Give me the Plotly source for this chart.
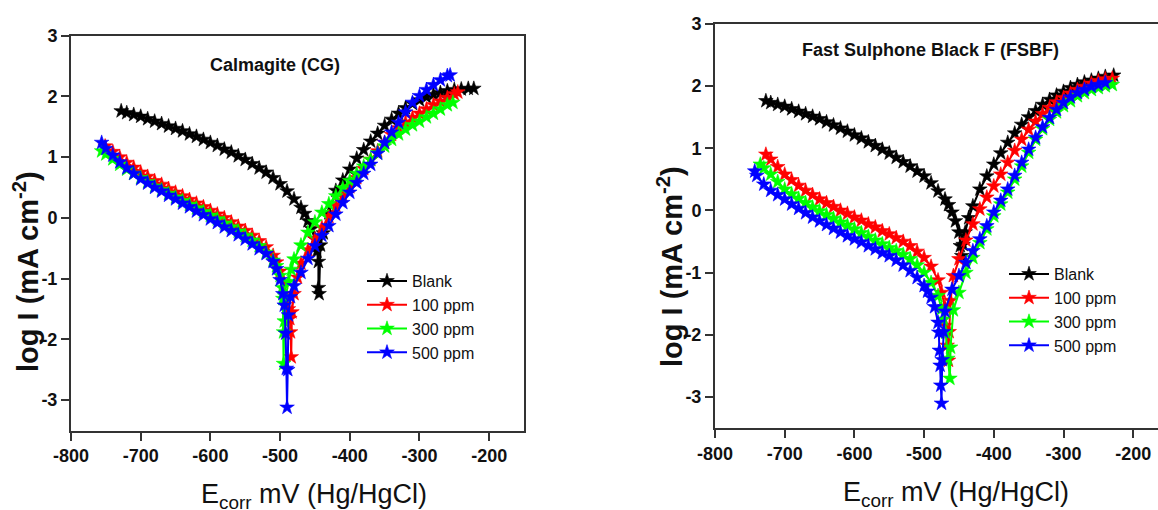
import plotly.graph_objects as go

# ---------------- Calmagite (CG) ----------------
cg_blank_E = [-728,-720,-710,-700,-690,-680,-670,-660,-650,-640,-630,-620,-610,-600,-590,-580,-570,-560,-550,-540,-530,-520,-510,-500,-490,-480,-470,-465,-460,-455,-450,
              -447,-445,-445,-444,
              -442,-438,-430,-420,-410,-400,-390,-380,-370,-360,-350,-340,-330,-320,-310,-300,-290,-280,-270,-260,-250,-240,-230,-222]
cg_blank_I = [1.76,1.73,1.70,1.67,1.63,1.59,1.55,1.51,1.47,1.43,1.38,1.34,1.29,1.24,1.19,1.13,1.08,1.02,0.96,0.89,0.82,0.75,0.66,0.56,0.44,0.31,0.17,0.07,-0.05,-0.18,-0.35,
              -0.55,-0.72,-1.15,-1.25,
              -0.45,-0.25,0.08,0.45,0.62,0.80,0.98,1.12,1.26,1.39,1.52,1.62,1.72,1.81,1.88,1.94,1.99,2.03,2.06,2.09,2.11,2.12,2.13,2.13]

cg_100_E = [-751,-740,-730,-720,-710,-700,-690,-680,-670,-660,-650,-640,-630,-620,-610,-600,-590,-580,-570,-560,-550,-540,-530,-520,-510,-505,-500,-495,-490,
            -488,-486,-485,-484,
            -483,-480,-475,-470,-460,-450,-440,-430,-420,-410,-400,-390,-380,-370,-360,-350,-340,-330,-320,-310,-300,-290,-280,-270,-260,-250,-245]
cg_100_I = [1.18,1.09,1.00,0.91,0.83,0.75,0.68,0.61,0.55,0.48,0.42,0.36,0.30,0.24,0.18,0.12,0.06,0.00,-0.07,-0.14,-0.21,-0.29,-0.38,-0.48,-0.62,-0.73,-0.88,-1.06,-1.30,
            -1.50,-1.66,-1.88,-2.29,
            -1.55,-1.25,-0.98,-0.75,-0.53,-0.35,-0.16,0.02,0.20,0.36,0.51,0.66,0.81,0.96,1.10,1.24,1.37,1.48,1.57,1.65,1.72,1.79,1.86,1.92,1.98,2.04,2.07]

cg_300_E = [-756,-750,-740,-730,-720,-710,-700,-690,-680,-670,-660,-650,-640,-630,-620,-610,-600,-590,-580,-570,-560,-550,-540,-530,-520,-510,-505,-500,-497,
            -496,-495,-495,
            -494,-492,-488,-484,-480,-470,-460,-450,-440,-430,-420,-410,-400,-390,-380,-370,-360,-350,-340,-330,-320,-310,-300,-290,-280,-270,-260,-252]
cg_300_I = [1.10,1.05,0.97,0.88,0.80,0.73,0.66,0.59,0.52,0.46,0.40,0.34,0.28,0.22,0.16,0.10,0.04,-0.02,-0.09,-0.15,-0.22,-0.29,-0.37,-0.46,-0.57,-0.70,-0.79,-0.95,-1.15,
            -1.33,-1.88,-2.40,
            -1.70,-1.30,-1.05,-0.85,-0.68,-0.45,-0.24,-0.07,0.09,0.23,0.36,0.49,0.61,0.73,0.85,0.96,1.07,1.18,1.29,1.38,1.46,1.53,1.59,1.66,1.72,1.79,1.86,1.90]

cg_500_E = [-756,-750,-740,-730,-720,-710,-700,-690,-680,-670,-660,-650,-640,-630,-620,-610,-600,-590,-580,-570,-560,-550,-540,-530,-520,-510,-505,-500,-496,
            -494,-492,-491,-490,
            -489,-488,-485,-480,-470,-460,-450,-440,-430,-420,-410,-400,-390,-380,-370,-360,-350,-340,-330,-320,-310,-300,-290,-280,-270,-260,-256]
cg_500_I = [1.24,1.14,1.03,0.92,0.82,0.73,0.64,0.57,0.50,0.44,0.37,0.31,0.24,0.18,0.11,0.05,-0.02,-0.08,-0.15,-0.21,-0.28,-0.35,-0.43,-0.51,-0.59,-0.72,-0.84,-1.02,-1.25,
            -1.44,-1.90,-2.48,-3.12,
            -2.50,-1.60,-1.30,-1.12,-0.90,-0.67,-0.46,-0.29,-0.13,0.06,0.25,0.42,0.58,0.73,0.88,1.06,1.24,1.41,1.57,1.74,1.90,2.01,2.11,2.19,2.27,2.34,2.35]

# ---------------- Fast Sulphone Black F (FSBF) ----------------
fs_blank_E = [-727,-720,-710,-700,-690,-680,-670,-660,-650,-640,-630,-620,-610,-600,-590,-580,-570,-560,-550,-540,-530,-520,-510,-500,-490,-480,-470,-465,-460,-455,-450,
              -448,-446,
              -444,-441,-436,-430,-420,-410,-400,-390,-380,-370,-360,-350,-340,-330,-320,-310,-300,-290,-280,-270,-260,-250,-240,-228]
fs_blank_I = [1.76,1.73,1.70,1.67,1.63,1.59,1.55,1.51,1.47,1.42,1.37,1.32,1.27,1.21,1.16,1.10,1.04,0.98,0.92,0.85,0.78,0.71,0.63,0.55,0.44,0.31,0.18,0.09,-0.03,-0.17,-0.35,
              -0.57,-0.73,
              -0.55,-0.35,-0.12,0.07,0.34,0.55,0.74,0.92,1.09,1.24,1.38,1.50,1.60,1.70,1.78,1.85,1.91,1.97,2.02,2.06,2.09,2.12,2.15,2.17]

fs_100_E = [-727,-720,-710,-700,-690,-680,-670,-660,-650,-640,-630,-620,-610,-600,-590,-580,-570,-560,-550,-540,-530,-520,-510,-500,-490,-480,-475,-470,
            -469,-467,-465,
            -464,-462,-458,-450,-440,-430,-420,-410,-400,-390,-380,-370,-360,-350,-340,-330,-320,-310,-300,-290,-280,-270,-260,-250,-240,-230]
fs_100_I = [0.90,0.82,0.70,0.58,0.49,0.40,0.32,0.25,0.18,0.12,0.06,0.00,-0.05,-0.11,-0.16,-0.22,-0.27,-0.33,-0.38,-0.44,-0.50,-0.57,-0.66,-0.76,-0.90,-1.12,-1.32,-1.55,
            -1.85,-2.17,-2.41,
            -1.95,-1.45,-1.05,-0.78,-0.48,-0.22,0.02,0.21,0.39,0.58,0.77,0.96,1.14,1.30,1.43,1.55,1.65,1.74,1.81,1.88,1.94,1.99,2.04,2.08,2.11,2.12]

fs_300_E = [-735,-730,-720,-710,-700,-690,-680,-670,-660,-650,-640,-630,-620,-610,-600,-590,-580,-570,-560,-550,-540,-530,-520,-510,-500,-490,-480,-475,-472,
            -469,-466,-463,
            -462,-458,-450,-440,-430,-420,-410,-400,-390,-380,-370,-360,-350,-340,-330,-320,-310,-300,-290,-280,-270,-260,-250,-240,-230]
fs_300_I = [0.74,0.68,0.58,0.46,0.34,0.26,0.19,0.12,0.05,-0.01,-0.07,-0.13,-0.19,-0.24,-0.30,-0.36,-0.42,-0.48,-0.54,-0.60,-0.65,-0.71,-0.78,-0.88,-1.00,-1.16,-1.37,-1.58,-1.75,
            -1.96,-2.38,-2.70,
            -2.20,-1.60,-1.32,-1.00,-0.76,-0.52,-0.30,-0.09,0.10,0.29,0.50,0.71,0.93,1.14,1.31,1.46,1.58,1.68,1.76,1.84,1.89,1.94,1.97,2.00,2.02]

fs_500_E = [-743,-740,-730,-720,-710,-700,-690,-680,-670,-660,-650,-640,-630,-620,-610,-600,-590,-580,-570,-560,-550,-540,-530,-520,-510,-500,-495,-490,-485,-480,
            -479,-478,-477,-476,-475,
            -474,-472,-470,-460,-450,-440,-430,-420,-410,-400,-390,-380,-370,-360,-350,-340,-330,-320,-310,-300,-290,-280,-270,-260,-250,-240]
fs_500_I = [0.63,0.56,0.42,0.32,0.25,0.18,0.10,0.03,-0.04,-0.11,-0.17,-0.23,-0.29,-0.35,-0.41,-0.46,-0.51,-0.57,-0.62,-0.68,-0.73,-0.80,-0.88,-0.97,-1.08,-1.21,-1.30,-1.40,-1.55,-1.80,
            -1.96,-2.25,-2.49,-2.81,-3.10,
            -2.40,-1.95,-1.62,-1.27,-1.05,-0.84,-0.65,-0.46,-0.25,-0.03,0.16,0.34,0.56,0.77,0.98,1.17,1.34,1.49,1.62,1.73,1.82,1.89,1.94,1.99,2.02,2.05]

series_names = ["Blank", "100 ppm", "300 ppm", "500 ppm"]
series_colors = ["#000000", "#ff0000", "#00ff00", "#0000ff"]
panel_titles = ["Calmagite (CG)", "Fast Sulphone Black F (FSBF)"]
x_ticks = [-800, -700, -600, -500, -400, -300, -200]
x_ticklabels = ["-800", "-700", "-600", "-500", "-400", "-300", "-200"]
y_ticks = [-3, -2, -1, 0, 1, 2, 3]
y_ticklabels = ["-3", "-2", "-1", "0", "1", "2", "3"]

panels = [
    [(cg_blank_E, cg_blank_I), (cg_100_E, cg_100_I), (cg_300_E, cg_300_I), (cg_500_E, cg_500_I)],
    [(fs_blank_E, fs_blank_I), (fs_100_E, fs_100_I), (fs_300_E, fs_300_I), (fs_500_E, fs_500_I)],
]

W, H = 1158, 510
fig = go.Figure()

for p, data in enumerate(panels):
    xa = "x" if p == 0 else "x2"
    ya = "y" if p == 0 else "y2"
    leg = "legend" if p == 0 else "legend2"
    for (E, I), name, col in zip(data, series_names, series_colors):
        fig.add_trace(go.Scatter(
            x=E, y=I, mode="lines+markers", name=name,
            xaxis=xa, yaxis=ya, legend=leg,
            line=dict(color=col, width=2),
            marker=dict(symbol="star", size=11, color=col, line=dict(color=col, width=0.6)),
        ))

tickfont = dict(family="Liberation Sans, Arial", size=18, color="#111111", weight="bold")
ax_common = dict(showline=True, linecolor="#333333", linewidth=2, ticks="outside", ticklen=8, tickwidth=1.5,
                 tickcolor="#333333", showgrid=False, zeroline=False, tickfont=tickfont, automargin=False)

# pixel geometry of the two plot boxes
L1, R1, T1, B1 = 71, 524, 35.7, 430.5
L2, R2, T2, B2 = 715, 1158, 23.7, 428.3
x2_right = -800 + (R2 - L2) / 0.697

fig.update_layout(
    template="none",
    width=W, height=H, margin=dict(l=0, r=0, t=0, b=0, autoexpand=False),
    paper_bgcolor="white", plot_bgcolor="white",
    xaxis=dict(domain=[L1 / W, R1 / W], range=[-800, -150], tickvals=x_ticks, ticktext=x_ticklabels,
               anchor="y", mirror=True, **ax_common),
    yaxis=dict(domain=[1 - B1 / H, 1 - T1 / H], range=[-3.5, 3], tickvals=y_ticks, ticktext=y_ticklabels,
               anchor="x", mirror=True, **ax_common),
    xaxis2=dict(domain=[L2 / W, R2 / W], range=[-800, x2_right], tickvals=x_ticks, ticktext=x_ticklabels,
                anchor="y2", mirror=True, **ax_common),
    yaxis2=dict(domain=[1 - B2 / H, 1 - T2 / H], range=[-3.5, 3], tickvals=y_ticks, ticktext=y_ticklabels,
                anchor="x2", mirror=False, **ax_common),
    legend=dict(x=362 / W, y=1 - 264 / H, xanchor="left", yanchor="top", bgcolor="rgba(0,0,0,0)",
                font=dict(family="Liberation Sans, Arial", size=16, color="#111111"), itemwidth=40),
    legend2=dict(x=1004 / W, y=1 - 257 / H, xanchor="left", yanchor="top", bgcolor="rgba(0,0,0,0)",
                 font=dict(family="Liberation Sans, Arial", size=16, color="#111111"), itemwidth=40),
    showlegend=True,
)

title_font = dict(family="Liberation Sans, Arial", size=18, color="#111111")
axis_title_font = dict(family="Liberation Sans, Arial", size=27, color="#111111")
ylab_font = dict(family="Liberation Sans, Arial", size=29, color="#111111")

annots = [
    dict(text="<b>" + panel_titles[0] + "</b>", x=275 / W, y=1 - 65 / H, font=title_font),
    dict(text="<b>" + panel_titles[1] + "</b>", x=930 / W, y=1 - 50 / H, font=title_font),
    dict(text="E<sub>corr</sub> mV (Hg/HgCl)", x=314 / W, y=1 - 496 / H, font=axis_title_font),
    dict(text="E<sub>corr</sub> mV (Hg/HgCl)", x=956 / W, y=1 - 494 / H, font=axis_title_font),
    dict(text="<b>log I (mA cm<sup>-2</sup>)</b>", x=26 / W, y=1 - 272 / H, font=ylab_font, textangle=-90),
    dict(text="<b>log I (mA cm<sup>-2</sup>)</b>", x=670 / W, y=1 - 267 / H, font=ylab_font, textangle=-90),
]
for a in annots:
    fig.add_annotation(xref="paper", yref="paper", showarrow=False, xanchor="center", yanchor="middle", **a)

fig.write_html("out.html", config={"displayModeBar": False},
               post_script="document.body.style.margin='0px';")
